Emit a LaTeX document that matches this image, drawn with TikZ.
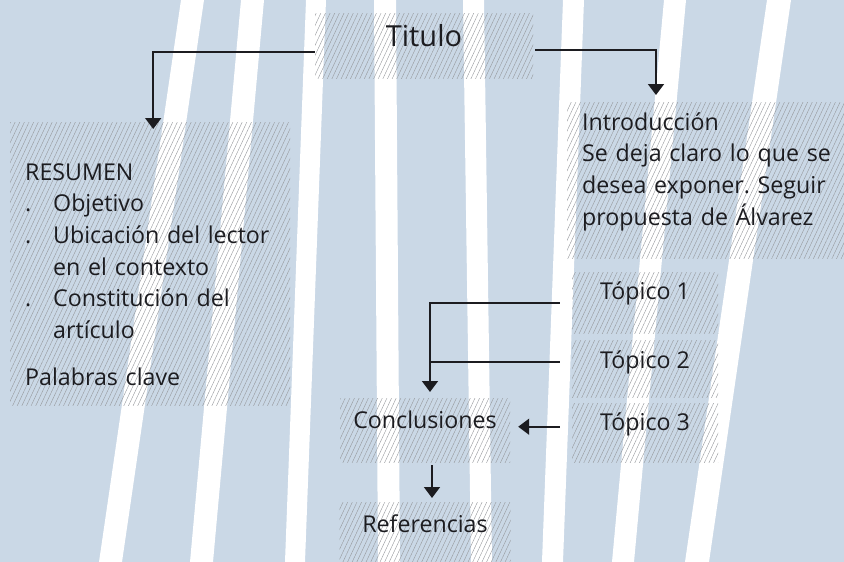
\documentclass[tikz,border=0pt]{standalone}
\usepackage{fontspec}
\setmainfont{Open Sans}
\frenchspacing
\usetikzlibrary{arrows.meta, patterns.meta, positioning}
\definecolor{paper}{RGB}{202,216,230}
\definecolor{ink}{RGB}{28,28,32}
\definecolor{hatch}{RGB}{150,152,156}

\begin{document}
\begin{tikzpicture}[x=1pt, y=-1pt, font=\fontsize{23.2}{31.6}\selectfont, text=ink]
    % Styles
    \tikzstyle{hbox} = [pattern={Lines[angle=65, distance=4.2pt, line width=0.4pt]}, pattern color=hatch, inner sep=0pt]
    \tikzstyle{onebox} = [hbox, anchor=north]
    \tikzstyle{textbox} = [hbox, anchor=north west, align=left, inner xsep=15pt, inner ysep=0pt]
    \tikzstyle{link} = [draw, ink, line width=1.7pt]
    \tikzstyle{arr} = [link, -{Triangle[width=16pt, length=11pt]}]

    % Background and stripes
    \useasboundingbox (0,0) rectangle (844,562);
    \fill[paper] (0,0) rectangle (844,562);
    \foreach \top/\bot/\w in {181/99/23, 241/190/23, 306/285/20, 374/378/22, 463/471/21, 563/542/21, 664/612/22, 767/685/24}
        \fill[white] (\top,0) -- (\top+\w,0) -- (\bot+\w,562) -- (\bot,562) -- cycle;

    % Nodes
    \node [onebox, minimum width=218pt, text height=33pt, text depth=32pt, font=\fontsize{29}{36}\selectfont] (titulo) at (424,13) {Titulo};
    \node [textbox, text width=250pt, text height=58pt, text depth=225pt] (resumen) at (10,122) {RESUMEN\\
        \makebox[28pt][l]{.}Objetivo\\
        \makebox[28pt][l]{.}Ubicación del lector\\
        \hspace*{28pt}en el contexto\\
        \makebox[28pt][l]{.}Constitución del\\
        \hspace*{28pt}artículo\\[15.5pt]
        Palabras clave};
    \node [textbox, text width=262pt, text height=28pt, text depth=128pt] (intro) at (567,102) {Introducción\\
        Se deja claro lo que se\\
        desea exponer. Seguir\\
        propuesta de Álvarez};
    \node [onebox, minimum width=146pt, text height=27pt, text depth=34pt] (top1) at (645,272) {Tópico 1};
    \node [onebox, minimum width=146pt, text height=28pt, text depth=29pt] (top2) at (645,340) {Tópico 2};
    \node [onebox, minimum width=146pt, text height=27pt, text depth=32pt] (top3) at (645,403) {Tópico 3};
    \node [onebox, minimum width=170pt, text height=30pt, text depth=34pt] (concl) at (425,398) {Conclusiones};
    \node [onebox, minimum width=171pt, text height=30pt, text depth=40pt] (refs) at (425,502) {Referencias};
    \coordinate (drop) at ([xshift=5pt]concl.north);

    % Paths: Titulo -> Resumen, Introduccion
    \draw [arr] ([yshift=-6pt]titulo.west) -| ([shift={(3,7)}]resumen.north);
    \draw [arr, shorten <=2pt] ([yshift=-4pt]titulo.east) -| ([shift={(89,-7)}]intro.north west);

    % Paths: Topicos -> Conclusiones -> Referencias
    \draw [arr, shorten <=12pt] (top1.west) -| ([yshift=6pt]drop);
    \draw [link, shorten <=12pt] ([yshift=7pt]top2.west) -- ([yshift=7pt]top2.west -| drop);
    \draw [arr, shorten <=12pt, shorten >=8pt] ([yshift=6pt]top3.west) -- ([yshift=6pt]top3.west -| concl.east);
    \draw [arr, shorten <=3pt, shorten >=4pt] ([xshift=7pt]concl.south) -- ([xshift=7pt]refs.north);
\end{tikzpicture}
\end{document}
